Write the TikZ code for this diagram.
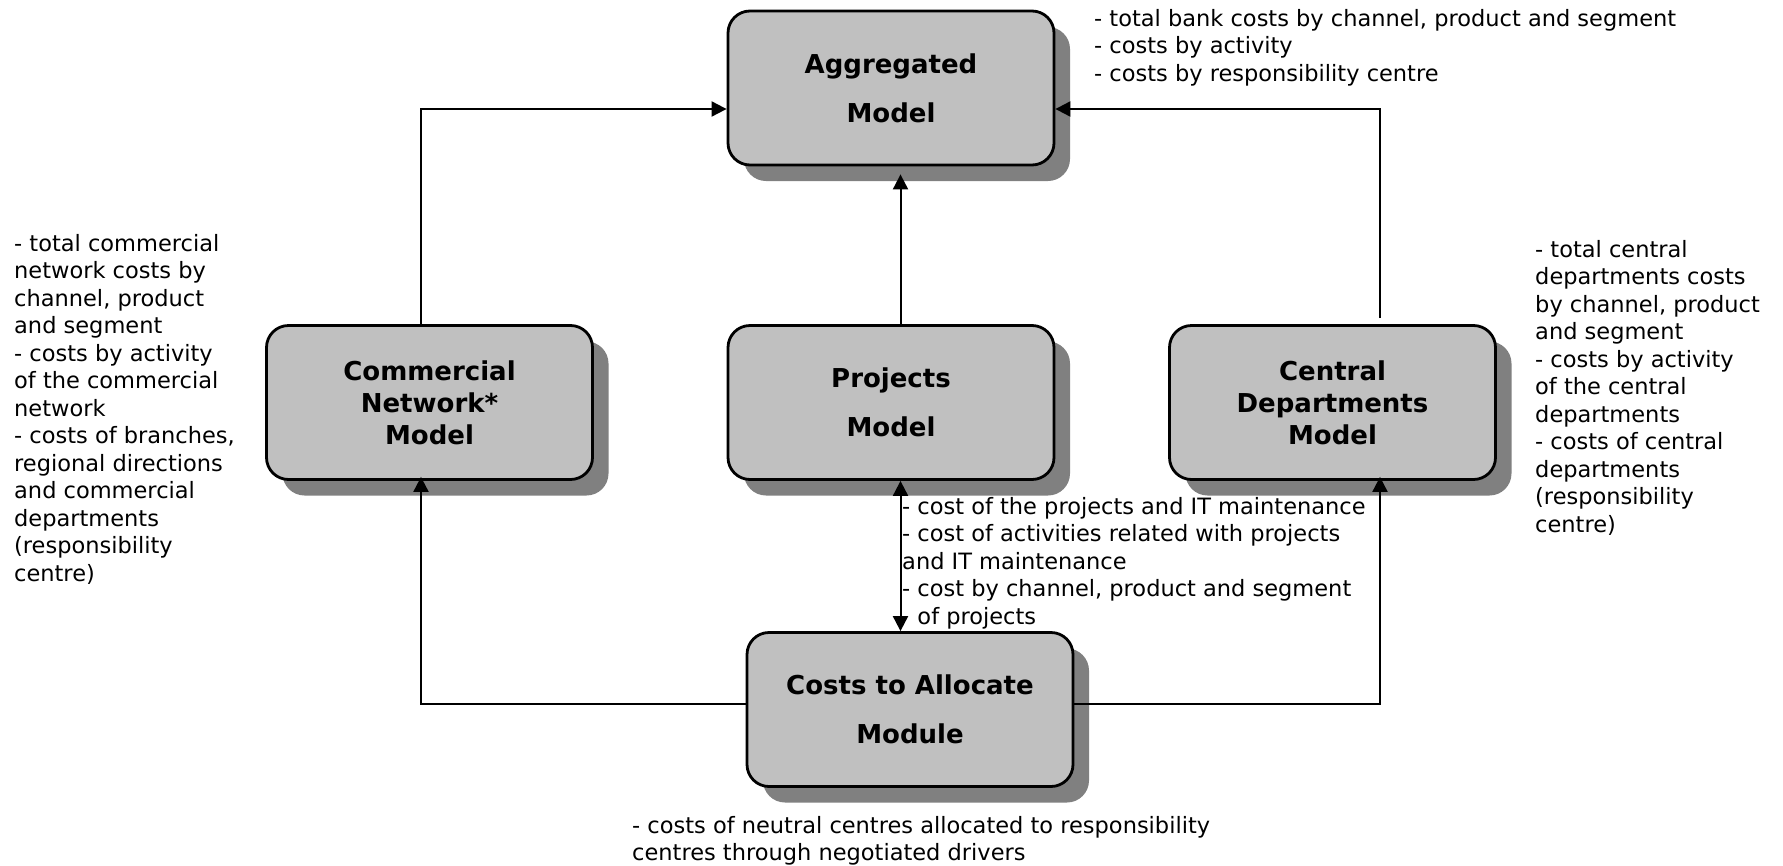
\documentclass[tikz,border=0pt]{standalone}
\usepackage{fontspec}
\setmainfont{DejaVu Sans}
\usepackage{tikz}
\usetikzlibrary{arrows.meta,shadows}
\definecolor{boxgray}{HTML}{C0C0C0}
\definecolor{shadegray}{HTML}{808080}

\begin{document}
\begin{tikzpicture}[x=1pt,y=-1pt,
    model/.style={draw,line width=2.8pt,rounded corners=22pt,fill=boxgray,
      minimum width=326pt,minimum height=154pt,align=center,
      font=\fontsize{26}{32}\selectfont\bfseries,
      drop shadow={shadow xshift=16pt,shadow yshift=-16pt,fill=shadegray,opacity=1}},
    note/.style={anchor=north west,inner sep=0pt,align=left,
      font=\fontsize{22.5}{27.5}\selectfont},
    link/.style={line width=2pt,-{Triangle[length=15pt,width=15pt]}},
    both/.style={line width=2pt,{Triangle[length=15pt,width=15pt]}-{Triangle[length=15pt,width=15pt]}}]
  \useasboundingbox (0,0) rectangle (1783,865);
  \node[model] (agg) at (891,88) {Aggregated\\[17pt]Model};
  \node[model] (comm) at (429.5,402.5) {Commercial\\Network*\\Model};
  \node[model] (proj) at (891,402.5) {Projects\\[17pt]Model};
  \node[model] (cent) at (1332.5,402.5) {Central\\Departments\\Model};
  \node[model] (costs) at (910,709.5) {Costs to Allocate\\[17pt]Module};
  \draw[link] ([xshift=-8.5pt]comm.north) |- ([yshift=-21pt]agg.west);
  \draw[link] ([xshift=47.5pt,yshift=6pt]cent.north) |- ([yshift=-21pt]agg.east);
  \draw[link] ([xshift=9.5pt]proj.north) -- ([xshift=9.5pt,yshift=-8pt]agg.south);
  \draw[both] ([xshift=9.5pt]proj.south) -- ([xshift=-9.5pt]costs.north);
  \draw[link] ([yshift=5.5pt]costs.west) -| ([xshift=-8.5pt,yshift=4pt]comm.south);
  \draw[link] ([yshift=5.5pt]costs.east) -| ([xshift=47.5pt,yshift=4pt]cent.south);
  \node[note] (aggnote) at (1094,9) {- total bank costs by channel, product and segment\\
    - costs by activity\\- costs by responsibility centre};
  \node[note] (commnote) at (14,234) {- total commercial\\network costs by\\channel, product\\
    and segment\\- costs by activity\\of the commercial\\network\\- costs of branches,\\
    regional directions\\and commercial\\departments\\(responsibility\\centre)};
  \node[note] (centnote) at (1535,240) {- total central\\departments costs\\by channel, product\\
    and segment\\- costs by activity\\of the central\\departments\\- costs of central\\
    departments\\(responsibility\\centre)};
  \node[note] (projnote) at (902,497) {- cost of the projects and IT maintenance\\
    - cost of activities related with projects\\and IT maintenance\\
    - cost by channel, product and segment\\\hphantom{-}\ of projects};
  \node[note] (costsnote) at (632,816) {- costs of neutral centres allocated to responsibility\\
    centres through negotiated drivers};
\end{tikzpicture}
\end{document}
